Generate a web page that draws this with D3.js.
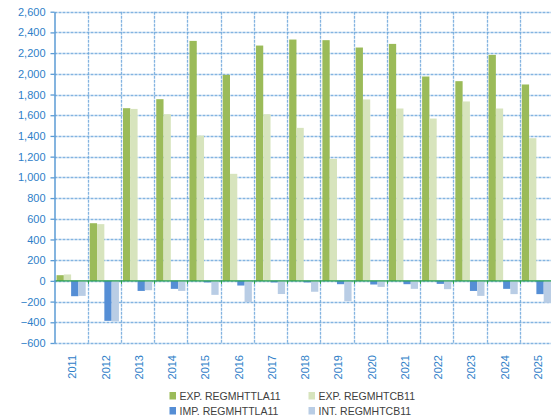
<!DOCTYPE html>
<html><head><meta charset="utf-8">
<script src="https://cdn.jsdelivr.net/npm/d3@7"></script>
<style>body{margin:0;background:#fff}svg{display:block}text{font-family:"Liberation Sans",Arial,sans-serif}</style>
</head><body><div id="c"></div>
<script>
const years = ["2011","2012","2013","2014","2015","2016","2017","2018","2019","2020","2021","2022","2023","2024","2025"];
const seriesNames = ["EXP. REGMHTTLA11","EXP. REGMHTCB11","IMP. REGMHTTLA11","INT. REGMHTCB11"];
const seriesColors = ["#9BBB59","#D7E4BD","#558ED5","#B9CDE5"];
const expTTLA = [55,557,1668,1755,2318,1990,2273,2331,2325,2254,2289,1974,1929,2183,1897];
const expTCB  = [62,548,1661,1610,1404,1034,1610,1478,1178,1752,1665,1568,1733,1665,1378];
const impTTLA = [-148,-386,-97,-77,-15,-45,-15,-15,-32,-35,-32,-29,-97,-77,-128];
const intTCB  = [-145,-392,-90,-97,-135,-205,-127,-105,-197,-58,-77,-80,-145,-128,-212];
const yTicks = [-600,-400,-200,0,200,400,600,800,1000,1200,1400,1600,1800,2000,2200,2400,2600];

(function(){
const W=551,H=418;
const svg=d3.select("#c").append("svg").attr("width",W).attr("height",H);
const pl=54.5, pr=553, pt=11.7, pb=343;
const x=d3.scaleBand().domain(years).range([pl,pr]).padding(0);
const y=d3.scaleLinear().domain([-600,2600]).range([pb,pt]);
const xs=d3.scaleBand().domain(d3.range(4)).range([0,x.bandwidth()]).paddingInner(0).paddingOuter(0.28);
const allSeries=[expTTLA,expTCB,impTTLA,intTCB];
const grid="#6FA8DC";

svg.append("g").selectAll("line").data(yTicks).join("line")
  .attr("x1",pl).attr("x2",W).attr("y1",d=>Math.round(y(d))+0.5).attr("y2",d=>Math.round(y(d))+0.5)
  .attr("stroke",grid).attr("stroke-width",1.3).attr("stroke-dasharray","3,1").attr("opacity",0.85);
svg.append("g").selectAll("line").data(years.slice(1)).join("line")
  .attr("x1",d=>Math.round(x(d))+0.5).attr("x2",d=>Math.round(x(d))+0.5).attr("y1",pt).attr("y2",pb)
  .attr("stroke",grid).attr("stroke-width",1.3).attr("stroke-dasharray","3,1").attr("opacity",0.85);

allSeries.forEach((vals,si)=>{
  svg.append("g").selectAll("rect").data(vals).join("rect")
    .attr("x",(d,i)=>x(years[i])+xs(si))
    .attr("width",xs.bandwidth())
    .attr("y",d=>y(Math.max(0,d)))
    .attr("height",d=>Math.abs(y(d)-y(0)))
    .attr("fill",seriesColors[si]);
});

svg.append("line").attr("x1",pl).attr("x2",W).attr("y1",y(0)).attr("y2",y(0))
  .attr("stroke","#2BA24C").attr("stroke-width",1.2);
svg.append("g").selectAll("line").data(years.slice(1)).join("line")
  .attr("x1",d=>Math.round(x(d))+0.5).attr("x2",d=>Math.round(x(d))+0.5).attr("y1",y(0)).attr("y2",y(0)+3)
  .attr("stroke","#2BA24C").attr("stroke-width",1);

const ya=svg.append("g").attr("transform",`translate(${pl},0)`)
  .call(d3.axisLeft(y).tickValues(yTicks).tickSize(4).tickSizeOuter(0).tickFormat(d3.format(",")));
ya.select(".domain").attr("stroke","#5B9BD5").attr("stroke-width",1.5);
ya.selectAll(".tick line").attr("stroke","#5B9BD5").attr("stroke-width",1.3);
ya.selectAll(".tick text").attr("fill","#2F80C8").attr("font-size","11px").attr("x",-9)
  .attr("font-family","Liberation Sans, Arial, sans-serif");

svg.append("g").selectAll("text").data(years).join("text")
  .attr("transform",d=>`translate(${x(d)+x.bandwidth()/2+1.5},${pb+12}) rotate(-90)`)
  .attr("text-anchor","end").attr("dy","0.35em")
  .attr("fill","#2F80C8").attr("font-size","11px").text(d=>d);

const legPos=[[169.5,392],[308.5,392],[169.5,407],[308.5,407]];
const lg=svg.append("g");
seriesNames.forEach((n,i)=>{
  const [lx,ly]=legPos[i];
  lg.append("rect").attr("x",lx).attr("y",ly).attr("width",6.5).attr("height",7.5).attr("fill",seriesColors[i]);
  lg.append("text").attr("x",lx+10).attr("y",ly+7.5).attr("fill","#404040").attr("font-size","10.5px").text(n);
});
})();
</script></body></html>
